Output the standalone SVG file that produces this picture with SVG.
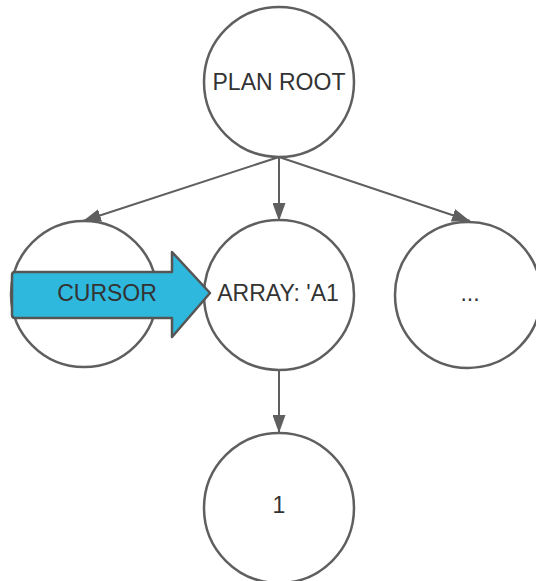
<svg xmlns="http://www.w3.org/2000/svg" width="536" height="581" viewBox="0 0 536 581">
  <style>
    .node { fill: #ffffff; stroke: #5f5f5f; stroke-width: 2.5; }
    .label { font-family: "Liberation Sans", Arial, sans-serif; font-size: 23px; fill: #333333; text-anchor: middle; }
    .edge { stroke: #5f5f5f; stroke-width: 2; fill: none; }
    .pointer { fill: #2fb8dd; stroke: #555555; stroke-width: 2.5; stroke-linejoin: round; }
  </style>
  <defs>
    <marker id="head" viewBox="0 0 18 13" refX="18" refY="6.5" markerWidth="18" markerHeight="13" markerUnits="userSpaceOnUse" orient="auto">
      <path d="M0,0 L18,6.5 L0,13 Z" fill="#5f5f5f"/>
    </marker>
  </defs>

  <g id="connectors">
    <line class="edge" x1="279" y1="157" x2="83" y2="221" marker-end="url(#head)"/>
    <line class="edge" x1="279" y1="157" x2="279" y2="221" marker-end="url(#head)"/>
    <line class="edge" x1="279" y1="157" x2="470" y2="221" marker-end="url(#head)"/>
    <line class="edge" x1="279" y1="369" x2="279" y2="433" marker-end="url(#head)"/>
  </g>

  <g id="plan-root">
    <circle class="node" cx="279" cy="82" r="75"/>
    <text class="label" x="279" y="90">PLAN ROOT</text>
  </g>

  <g id="left-child">
    <circle class="node" cx="84" cy="294" r="73"/>
  </g>

  <g id="array-node">
    <circle class="node" cx="279" cy="295" r="75"/>
    <text class="label" x="278" y="301">ARRAY: 'A1</text>
  </g>

  <g id="more-node">
    <circle class="node" cx="468" cy="295" r="73"/>
    <text class="label" x="470" y="301">...</text>
  </g>

  <g id="value-node">
    <circle class="node" cx="279" cy="508" r="75"/>
    <text class="label" x="279" y="513">1</text>
  </g>

  <g id="cursor">
    <path class="pointer" d="M15,272 L172,272 L172,252 L210,293 L172,337 L172,318 L15,318 Q12,318 12,315 L12,275 Q12,272 15,272 Z"/>
    <text class="label" x="107" y="301">CURSOR</text>
  </g>
</svg>
